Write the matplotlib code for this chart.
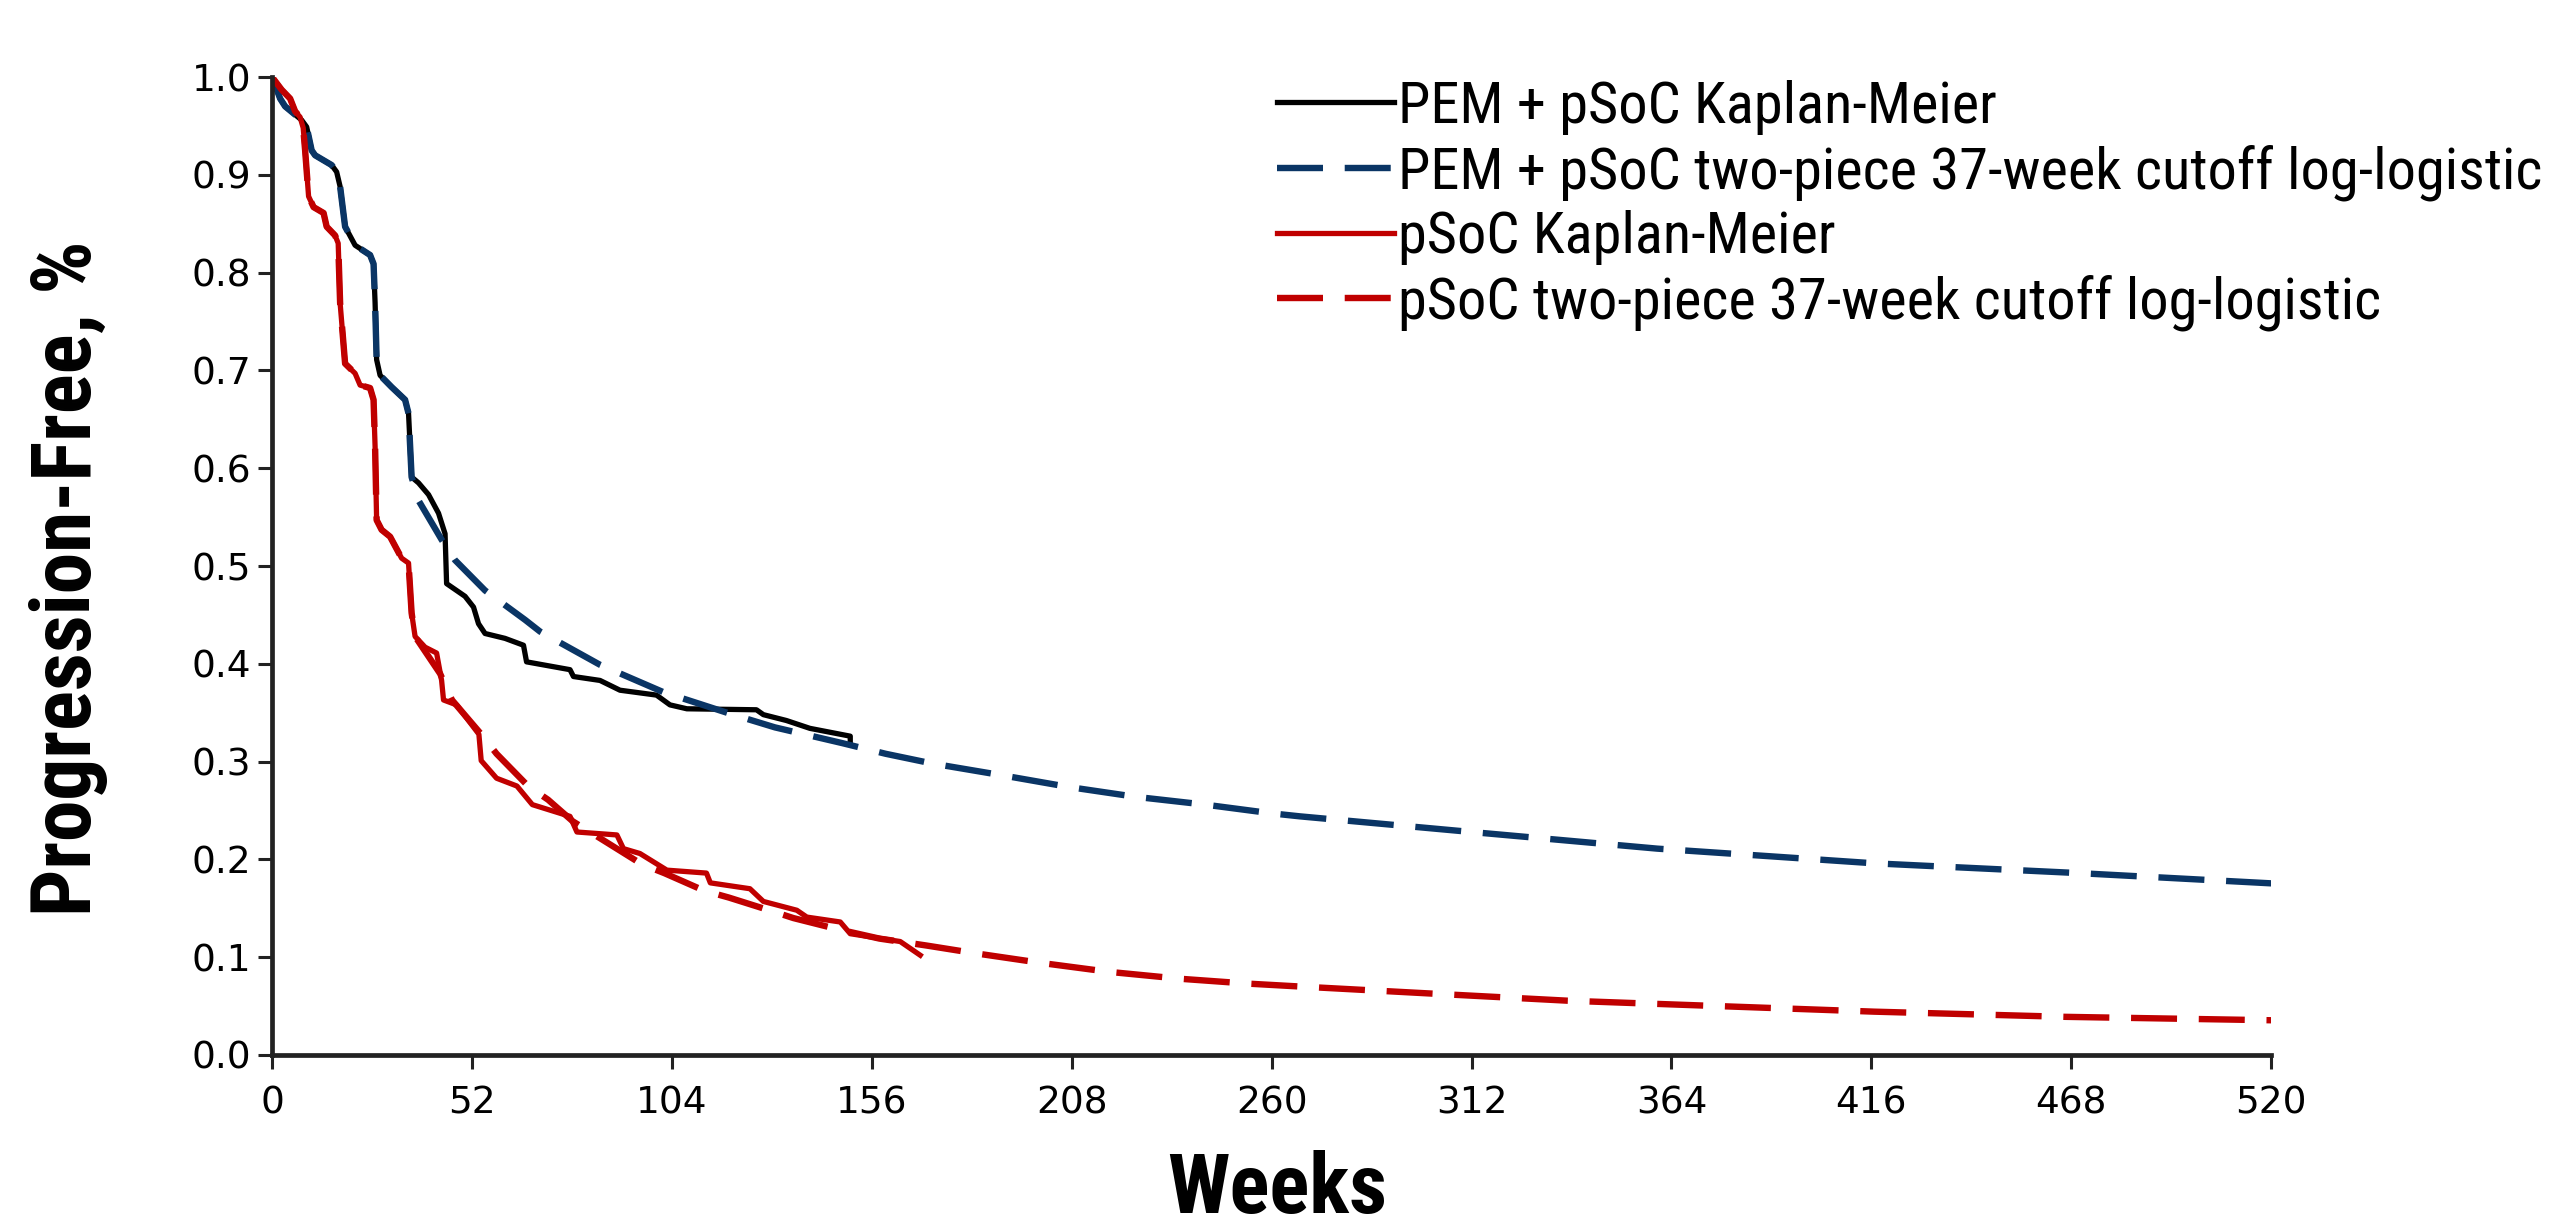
import matplotlib
matplotlib.use('Agg')
import matplotlib.pyplot as plt
from matplotlib import font_manager as fm

# PEM + pSoC Kaplan-Meier (weeks, proportion progression-free)
pem_km_weeks = [0, 2.1, 3.4, 7.7, 9.0, 10.3, 11.2, 15.5, 16.8, 17.7, 19.0, 21.6,
                25.5, 26.4, 26.8, 27.2, 28.1, 31.1, 34.6, 35.5, 36.3, 38.1, 40.7,
                43.3, 45.0, 45.4, 50.2, 52.4, 53.7, 55.4, 60.6, 65.4, 66.2, 77.5,
                78.4, 85.3, 90.5, 100, 103.5, 107.9, 126, 127.8, 133.8, 139.9,
                150.4, 150.4]
pem_km_surv = [1.0, 0.978, 0.970, 0.956, 0.949, 0.925, 0.920, 0.910, 0.903, 0.888,
               0.847, 0.828, 0.818, 0.809, 0.769, 0.711, 0.695, 0.683, 0.670, 0.656,
               0.591, 0.585, 0.573, 0.554, 0.533, 0.482, 0.469, 0.458, 0.441, 0.431,
               0.426, 0.419, 0.402, 0.394, 0.387, 0.383, 0.373, 0.368, 0.358, 0.354,
               0.353, 0.348, 0.342, 0.334, 0.326, 0.321]

# PEM + pSoC two-piece model: KM up to 37 weeks, log-logistic after
pem_fit_weeks = [0, 2.1, 3.4, 7.7, 9.0, 10.3, 11.2, 15.5, 16.8, 17.7, 19.0, 21.6,
                 25.5, 26.4, 26.8, 27.2, 28.1, 31.1, 34.6, 35.5, 36.3, 38.1, 44.1,
                 47.6, 55.4, 65.8, 69.7, 85.3, 101.8, 119.1, 130.8, 148.2, 159.6,
                 171.8, 189.9, 207.3, 224.6, 242.7, 260.2, 267.4, 312, 360.3, 416.7,
                 469.8, 520]
pem_fit_surv = [1.0, 0.978, 0.970, 0.956, 0.949, 0.925, 0.920, 0.910, 0.903, 0.888,
                0.847, 0.828, 0.818, 0.809, 0.769, 0.711, 0.695, 0.683, 0.670, 0.656,
                0.591, 0.567, 0.527, 0.506, 0.475, 0.445, 0.433, 0.399, 0.371, 0.349,
                0.335, 0.319, 0.308, 0.298, 0.286, 0.274, 0.264, 0.256, 0.247, 0.244,
                0.228, 0.211, 0.196, 0.186, 0.1755]

# pSoC Kaplan-Meier
soc_km_weeks = [0, 2.5, 4.7, 6.0, 7.3, 8.1, 8.6, 9.5, 10.8, 13.4, 14.2, 16.4, 17.2,
                17.7, 19.0, 21.6, 22.9, 25.5, 26.4, 26.8, 27.2, 28.5, 30.7, 33.7,
                35.5, 36.3, 37.2, 39.8, 42.8, 44.1, 44.6, 48.0, 53.8, 54.4, 58.4,
                63.7, 67.7, 77.5, 79.3, 89.7, 91.4, 95.7, 102.7, 113, 114, 124.3,
                127.8, 136.5, 139.1, 147.8, 150.4, 163.4, 168.6]
soc_km_surv = [1.0, 0.987, 0.978, 0.965, 0.959, 0.948, 0.925, 0.878, 0.867, 0.861,
               0.847, 0.838, 0.830, 0.769, 0.707, 0.697, 0.685, 0.682, 0.670, 0.622,
               0.547, 0.537, 0.530, 0.508, 0.503, 0.452, 0.428, 0.417, 0.411, 0.383,
               0.363, 0.358, 0.328, 0.301, 0.283, 0.275, 0.256, 0.244, 0.228, 0.225,
               0.211, 0.206, 0.189, 0.186, 0.176, 0.170, 0.157, 0.148, 0.141, 0.136,
               0.124, 0.116, 0.102]

# pSoC two-piece model
soc_fit_weeks = [0, 2.5, 4.7, 6.0, 7.3, 8.1, 8.6, 9.5, 10.8, 13.4, 14.2, 16.4, 17.2,
                 17.7, 19.0, 21.6, 22.9, 25.5, 26.4, 26.8, 27.2, 28.5, 30.7, 33.7,
                 35.5, 36.3, 37.2, 43.7, 46.8, 54.4, 58.4, 66.6, 71.8, 78.2, 86.4,
                 96.2, 102, 112.4, 118.8, 129.3, 135.6, 146.7, 158, 170.1, 182.9,
                 200.3, 217.7, 236, 253.7, 267.4, 300.6, 337, 416.7, 466.4, 520]
soc_fit_surv = [1.0, 0.987, 0.978, 0.965, 0.959, 0.948, 0.925, 0.878, 0.867, 0.861,
                0.847, 0.838, 0.830, 0.769, 0.707, 0.697, 0.685, 0.682, 0.670, 0.622,
                0.547, 0.537, 0.530, 0.508, 0.503, 0.452, 0.428, 0.390, 0.363, 0.328,
                0.308, 0.275, 0.261, 0.239, 0.219, 0.195, 0.186, 0.168, 0.161, 0.148,
                0.140, 0.129, 0.119, 0.112, 0.104, 0.094, 0.085, 0.078, 0.073, 0.070,
                0.063, 0.0555, 0.0443, 0.039, 0.0355]

labels = ['PEM + pSoC Kaplan-Meier',
          'PEM + pSoC two-piece 37-week cutoff log-logistic',
          'pSoC Kaplan-Meier',
          'pSoC two-piece 37-week cutoff log-logistic']

x_ticks = [0, 52, 104, 156, 208, 260, 312, 364, 416, 468, 520]
y_ticks = [0.0, 0.1, 0.2, 0.3, 0.4, 0.5, 0.6, 0.7, 0.8, 0.9, 1.0]


def pick_narrow_font():
    """Return (family, stretch, size factor) for a condensed sans if one exists."""
    for name in ['Liberation Sans Narrow', 'Arial Narrow', 'Roboto Condensed']:
        try:
            fm.findfont(fm.FontProperties(family=name), fallback_to_default=False)
            return name, 'normal', 1.0
        except ValueError:
            pass
    path = fm.findfont(fm.FontProperties(family='DejaVu Sans', stretch='condensed'))
    if 'Condensed' in path:
        return 'DejaVu Sans', 'condensed', 0.93
    return 'Liberation Sans', 'normal', None


narrow, narrow_stretch, narrow_scale = pick_narrow_font()

BLACK = '#000000'
NAVY = '#0a3565'
RED = '#c00000'
dash = (7.2, 3.4)

fig = plt.figure(figsize=(25.57, 12.29), dpi=100)
ax = fig.add_axes([0.1064, 0.1416, 0.7818, 0.7957])

ax.plot(pem_km_weeks, pem_km_surv, color=BLACK, lw=3.8, solid_joinstyle='round',
        label=labels[0])
ax.plot(pem_fit_weeks, pem_fit_surv, color=NAVY, lw=4.6, dashes=dash,
        label=labels[1])
ax.plot(soc_km_weeks, soc_km_surv, color=RED, lw=3.8, solid_joinstyle='round',
        label=labels[2])
ax.plot(soc_fit_weeks, soc_fit_surv, color=RED, lw=4.6, dashes=dash,
        label=labels[3])

ax.set_xlim(0, 520)
ax.set_ylim(0, 1.0)
ax.set_xticks(x_ticks)
ax.set_yticks(y_ticks)
ax.set_xticklabels([str(t) for t in x_ticks], fontsize=27, family='DejaVu Sans')
ax.set_yticklabels([f'{t:.1f}' for t in y_ticks], fontsize=27, family='DejaVu Sans')
ax.tick_params(axis='both', direction='out', length=10, width=2.2, color='#222222')
ax.tick_params(axis='x', pad=12)
ax.tick_params(axis='y', pad=5)

for side in ['top', 'right']:
    ax.spines[side].set_visible(False)
for side in ['left', 'bottom']:
    ax.spines[side].set_linewidth(3.4)
    ax.spines[side].set_color('#222222')

# label / legend sizes: condensed font if present, else regular sized to width
if narrow_scale is None:
    label_size, legend_size = 49, 37.5
else:
    label_size, legend_size = 60 * narrow_scale, 42 * narrow_scale

ax.set_ylabel('Progression-Free, %', fontsize=label_size, fontweight='bold',
              family=narrow, fontstretch=narrow_stretch, va='center')
ax.yaxis.set_label_coords(-0.102, 0.487)
ax.set_xlabel('Weeks', fontsize=label_size, fontweight='bold',
              family=narrow, fontstretch=narrow_stretch, va='bottom')
ax.xaxis.set_label_coords(0.503, -0.1785)

leg = ax.legend(loc='upper left', bbox_to_anchor=(0.4994, 0.935),
                bbox_transform=fig.transFigure, frameon=False, borderpad=0,
                borderaxespad=0, handlelength=2.0, handletextpad=0.08,
                labelspacing=0.16,
                prop={'family': narrow, 'stretch': narrow_stretch, 'size': legend_size})

fig.savefig('out.png', dpi=100)
